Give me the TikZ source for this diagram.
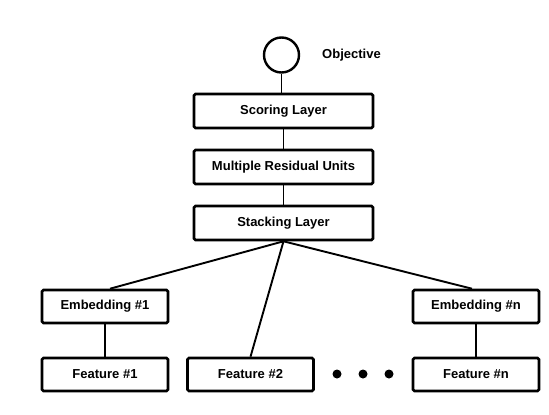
\documentclass[tikz,border=0pt]{standalone}
\usepackage{fontspec}
\setmainfont{Liberation Sans}
\usetikzlibrary{shapes, arrows.meta, positioning}
\tikzstyle{block}=[draw,fill=white,rectangle,line width=2.6pt,rounded corners=1.5pt,minimum width=179pt,minimum height=34pt]
\tikzstyle{smallblock}=[block,minimum width=126pt,minimum height=33pt]
\tikzstyle{every node}=[font=\bfseries\fontsize{13}{15}\selectfont]
\tikzstyle{dot}=[circle,fill=black,inner sep=0pt,minimum size=9pt]

\begin{document}
\begin{tikzpicture}[auto,x=1pt,y=-1pt,line width=1.9pt]
  \useasboundingbox (0,0) rectangle (549,415);
  \node[draw, circle, line width=2.4pt, minimum size=35pt, inner sep=0pt] at (281.5,55) (obj) {};
  \node[right of=obj, node distance=70pt] (objlabel) {Objective};
  \node[block] at (283.5,111) (scoring) {Scoring Layer};
  \node[block, below of=scoring, node distance=56pt] (residual) {Multiple Residual Units};
  \node[block, below of=residual, node distance=56pt] (stacking) {Stacking Layer};
  \node[smallblock] at (105,306.5) (emb1) {Embedding \#1};
  \node[smallblock, below of=emb1, node distance=68pt] (feat1) {Feature \#1};
  \node[smallblock, right of=feat1, node distance=145.5pt] (feat2) {Feature \#2};
  \node[smallblock] at (476,306.5) (embn) {Embedding \#n};
  \node[smallblock, below of=embn, node distance=68pt] (featn) {Feature \#n};
  \node[dot] at (337,374) (dota) {};
  \node[dot, right of=dota, node distance=26pt] (dotb) {};
  \node[dot, right of=dotb, node distance=26pt] (dotc) {};
  \draw (obj) -- (obj |- scoring.north);
  \draw (scoring) -- (residual);
  \draw (residual) -- (stacking);
  \draw (stacking.south) -- ([xshift=5pt]emb1.north);
  \draw (stacking.south) -- (feat2.north);
  \draw (stacking.south) -- ([xshift=-4pt]embn.north);
  \draw (emb1) -- (feat1);
  \draw (embn) -- (featn);
\end{tikzpicture}
\end{document}
